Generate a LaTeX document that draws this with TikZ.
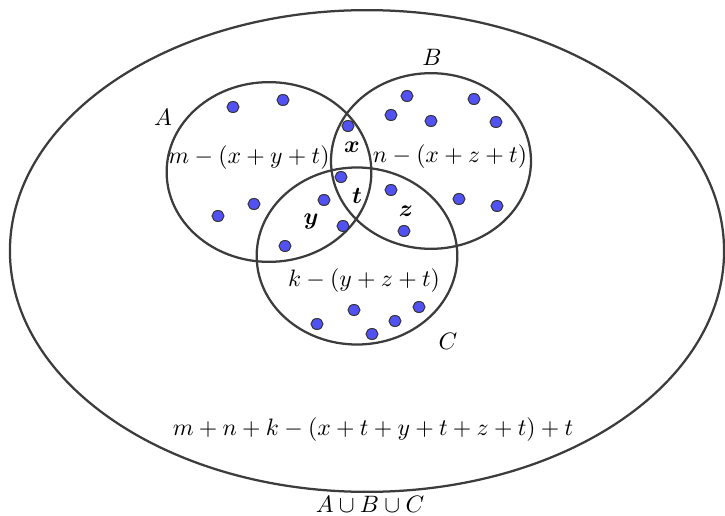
\documentclass[tikz,border=0pt]{standalone}
\usepackage{xcolor}
\usepackage{tikz}
\usetikzlibrary{shapes.geometric}
\usepackage{amsmath}
\definecolor{dotblue}{RGB}{82,82,242}
\definecolor{setline}{RGB}{60,60,60}

\begin{document}
\begin{tikzpicture}[x=0.0148cm, y=-0.0148cm,
  setring/.style={draw=setline, line width=0.95pt, ellipse, inner sep=0pt},
  elem/.style={draw=black!80, fill=dotblue, ellipse, inner sep=0pt,
               line width=0.4pt, minimum width=0.178cm, minimum height=0.163cm},
  lbl/.style={inner sep=0pt}
]
  \useasboundingbox (0,0) rectangle (725,516);

  % universe and the three sets
  \node (U) at (367,251) [setring, minimum width=10.57cm, minimum height=7.13cm] {};
  \node (A) at (269,172) [setring, minimum width=3.03cm, minimum height=2.66cm] {};
  \node (B) at (431,161) [setring, minimum width=2.96cm, minimum height=2.60cm] {};
  \node (C) at (357,256) [setring, minimum width=2.97cm, minimum height=2.62cm] {};

  % elements
  \foreach \px/\py [count=\i] in {233/107, 283/100, 218/216, 254/204,
      348/126, 341/177, 324/200, 343/226, 285/246,
      407/96, 474/99, 391/115, 431/121, 496/122, 391/190, 459/199, 497/206, 404/231,
      354/310, 419/307, 395/321, 317/324, 372/334}
    \node (e\i) at (\px,\py) [elem] {};

  % set names
  \node (nameA) at (163,117) [lbl] {$A$};
  \node (nameB) at (432,57)  [lbl] {$B$};
  \node (nameC) at (448,341) [lbl] {$C$};
  \node (nameU) at (370,504) [lbl] {$A\cup B\cup C$};

  % region counts
  \node (onlyA) at (249,158) [lbl] {$m-(x+y+t)$};
  \node (onlyB) at (450,157) [lbl] {$n-(x+z+t)$};
  \node (onlyC) at (364,281) [lbl] {$k-(y+z+t)$};
  \node (rx) at (352,147) [lbl] {$\boldsymbol{x}$};
  \node (rt) at (357,196) [lbl] {$\boldsymbol{t}$};
  \node (ry) at (311,222) [lbl] {$\boldsymbol{y}$};
  \node (rz) at (406,211) [lbl] {$\boldsymbol{z}$};
  \node (total) at (373,430) [lbl] {$m+n+k-(x+t+y+t+z+t)+t$};
\end{tikzpicture}
\end{document}
